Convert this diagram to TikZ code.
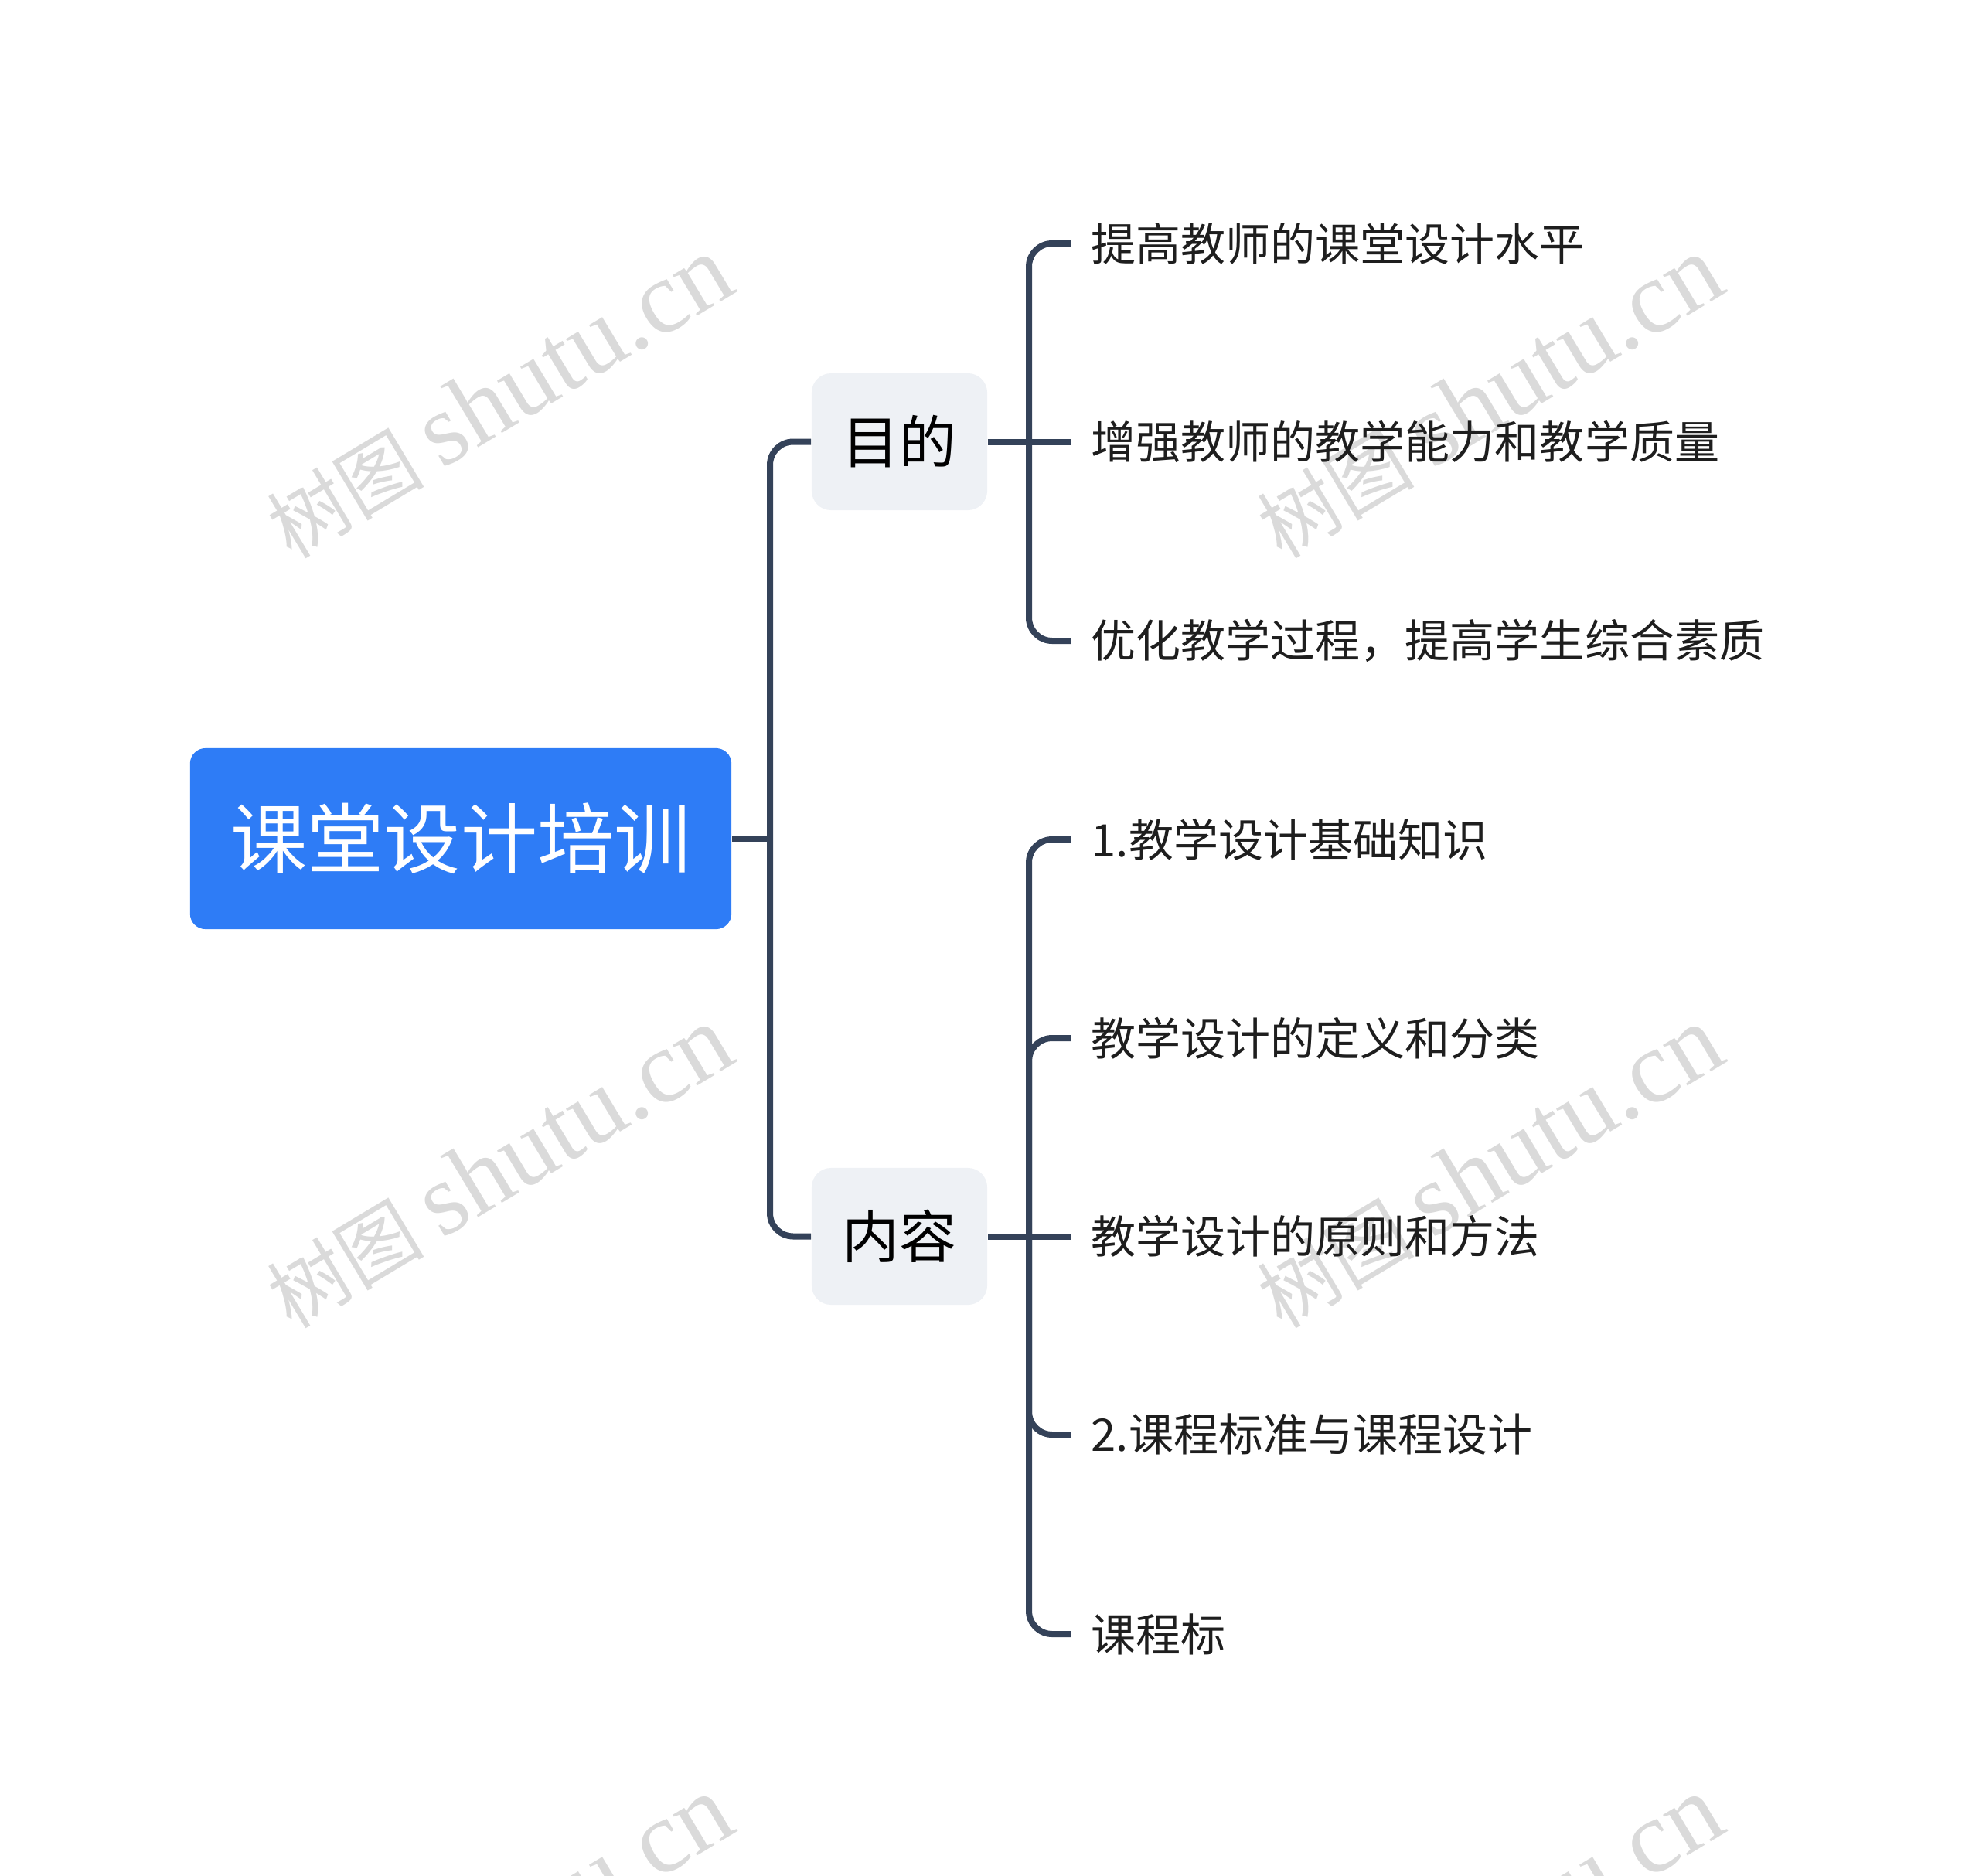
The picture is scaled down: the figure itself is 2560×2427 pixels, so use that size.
\documentclass[tikz,border=0pt]{standalone}
\usepackage{fontspec}
\setmainfont{Noto Sans CJK SC}
\newfontfamily\wmserif{Liberation Serif}
\definecolor{rootblue}{RGB}{46,124,246}
\definecolor{midgray}{RGB}{238,241,245}
\definecolor{linecol}{RGB}{52,66,89}
\definecolor{leaftext}{RGB}{30,30,30}
\definecolor{wmgray}{RGB}{218,218,218}
\begin{document}
\begin{tikzpicture}[x=0.01cm, y=-0.01cm,
    rootbox/.style={fill=rootblue, rounded corners=0.2cm, text=white,
        minimum width=7cm, minimum height=2.34cm, font=\fontsize{28.2}{34}\selectfont},
    midbox/.style={fill=midgray, rounded corners=0.25cm, text=black,
        minimum width=2.27cm, minimum height=1.77cm, font=\fontsize{21}{25}\selectfont},
    leaf/.style={anchor=west, inner xsep=0.26cm, inner ysep=0pt, text=leaftext,
        font=\fontsize{16.5}{20}\selectfont},
    branch/.style={draw=linecol, line width=0.08cm, rounded corners=0.3cm},
    wmtext/.style={text=wmgray, rotate=31, font=\fontsize{29}{34}\selectfont}]
    \useasboundingbox (0,0) rectangle (2560,2427);
    \clip (0,0) rectangle (2560,2427);
    % watermarks
    \foreach \wx/\wy [count=\i] in {645/514, 1926/514, 645/1510, 1926/1510, 645/2506, 1926/2506}
        \node[wmtext] (wm\i) at (\wx,\wy) {树图 {\wmserif\fontsize{38}{44}\selectfont shutu.cn}};
    % nodes
    \node[rootbox] (root) at (596,1085) {课堂设计培训};
    \node[midbox] (goal) at (1163.5,571.5) {目的};
    \node[midbox] (content) at (1163.5,1599.5) {内容};
    \node[leaf] (g1) at (1385,315) {提高教师的课堂设计水平};
    \node[leaf] (g2) at (1385,571.5) {增强教师的教学能力和教学质量};
    \node[leaf] (g3) at (1385,829) {优化教学过程，提高学生综合素质};
    \node[leaf] (c1) at (1385,1086) {1.教学设计基础知识};
    \node[leaf] (c2) at (1385,1343) {教学设计的定义和分类};
    \node[leaf] (c3) at (1385,1599.5) {教学设计的原则和方法};
    \node[leaf] (c4) at (1385,1856) {2.课程标准与课程设计};
    \node[leaf] (c5) at (1385,2114) {课程标};
    \coordinate (trunk) at (996,1085);
    \coordinate (gfork) at (1331,571.5);
    \coordinate (cfork) at (1331,1599.5);
    % connectors
    \draw[branch] (root.east) -- (trunk);
    \draw[branch] (trunk) |- (goal.west);
    \draw[branch] (trunk) |- (content.west);
    \draw[branch] (goal.east) -- (g2.west);
    \draw[branch] (gfork) |- (g1.west);
    \draw[branch] (gfork) |- (g3.west);
    \draw[branch] (content.east) -- (c3.west);
    \foreach \n in {c1,c2,c4,c5}
        \draw[branch] (cfork) |- (\n.west);
\end{tikzpicture}
\end{document}
